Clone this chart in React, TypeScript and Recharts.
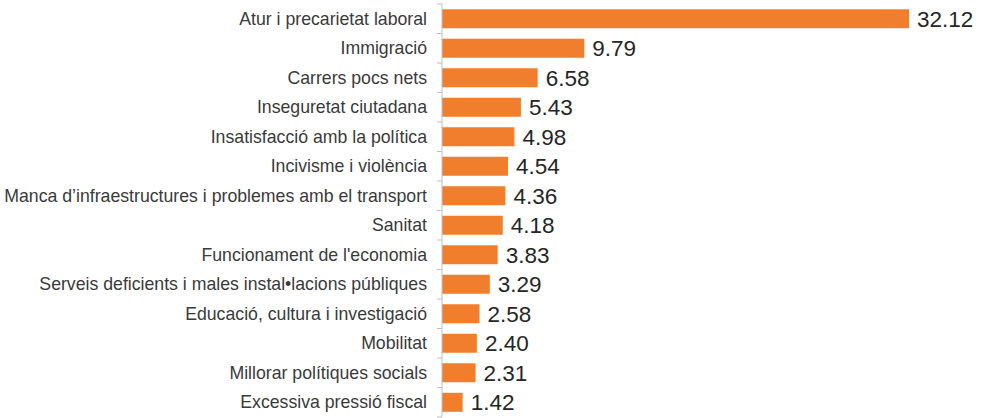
import React from "react";
import { Bar, BarChart, LabelList, XAxis, YAxis } from "recharts";

const categories = [
  "Atur i precarietat laboral",
  "Immigració",
  "Carrers pocs nets",
  "Inseguretat ciutadana",
  "Insatisfacció amb la política",
  "Incivisme i violència",
  "Manca d’infraestructures i problemes amb el transport",
  "Sanitat",
  "Funcionament de l'economia",
  "Serveis deficients i males instal•lacions públiques",
  "Educació, cultura i investigació",
  "Mobilitat",
  "Millorar polítiques socials",
  "Excessiva pressió fiscal"
];

const values = [32.12, 9.79, 6.58, 5.43, 4.98, 4.54, 4.36, 4.18, 3.83, 3.29, 2.58, 2.4, 2.31, 1.42];

const data = categories.map((name, i) => ({ name, value: values[i] }));

const W = 989;
const H = 418;
const margin = { top: 4, right: 80, bottom: 1, left: 0 };
const axisWidth = 442;
const band = (H - margin.top - margin.bottom) / categories.length;
const font = "'Liberation Sans', Arial, sans-serif";

function CategoryTick(props: any) {
  const { x, y, payload, index } = props;
  const ax = x + 15;
  return (
    <g>
      <text x={x} y={y} dy={6} textAnchor="end" fontSize={17.7} fill="#3a3a3a" fontFamily={font}>
        {payload.value}
      </text>
      <line x1={ax - 5} x2={ax} y1={y - band / 2} y2={y - band / 2} stroke="#bfbfbf" />
      {index === categories.length - 1 && (
        <line x1={ax - 5} x2={ax} y1={y + band / 2} y2={y + band / 2} stroke="#bfbfbf" />
      )}
    </g>
  );
}

export default function App() {
  return (
    <div style={{ position: "absolute", left: 0, top: 0, background: "#fff" }}>
      <BarChart width={W} height={H} data={data} layout="vertical" margin={margin} barCategoryGap="18%">
        <XAxis type="number" dataKey="value" domain={[0, 32.12]} hide />
        <YAxis
          type="category"
          dataKey="name"
          width={axisWidth}
          interval={0}
          tickLine={false}
          tickSize={0}
          tickMargin={15}
          axisLine={{ stroke: "#bfbfbf" }}
          tick={<CategoryTick />}
        />
        <Bar dataKey="value" fill="#f07e2c" isAnimationActive={false}>
          <LabelList
            dataKey="value"
            position="right"
            offset={8}
            fontSize={22.5}
            fill="#262626"
            fontFamily={font}
            formatter={(v: any) => Number(v).toFixed(2)}
          />
        </Bar>
      </BarChart>
    </div>
  );
}
